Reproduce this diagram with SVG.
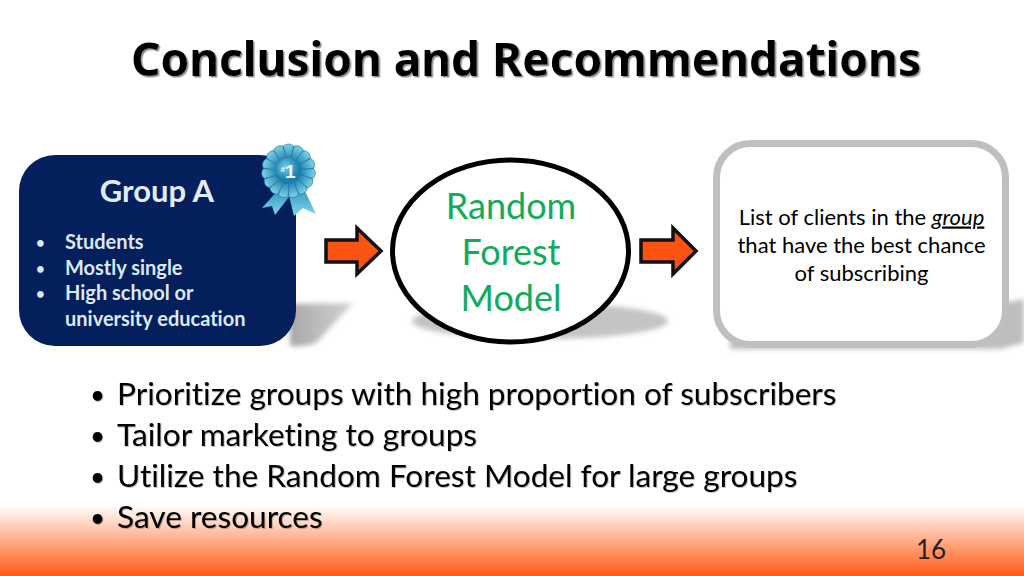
<svg xmlns="http://www.w3.org/2000/svg" width="1024" height="576" viewBox="0 0 1024 576">
<defs>
<linearGradient id="band" x1="0" y1="0" x2="0" y2="1"><stop offset="0" stop-color="#ffffff"/><stop offset="1" stop-color="#ff5a12"/></linearGradient>
<linearGradient id="ribbon" x1="0" y1="0" x2="0" y2="1"><stop offset="0" stop-color="#2f93bd"/><stop offset="1" stop-color="#7fd6ea"/></linearGradient>
<linearGradient id="fadeR" x1="0" y1="0" x2="1" y2="0"><stop offset="0" stop-color="#a8a8a8"/><stop offset="1" stop-color="#d4d4d4"/></linearGradient>
<radialGradient id="seal" cx="0.4" cy="0.35"><stop offset="0" stop-color="#74cfe8"/><stop offset="1" stop-color="#1a80ae"/></radialGradient>
<linearGradient id="petal" x1="0" y1="0" x2="0" y2="1"><stop offset="0" stop-color="#7ed4ea"/><stop offset="1" stop-color="#2484b2"/></linearGradient>
<path id="p" d="M-3.200 -12 L-5 -25 Q0 -29 5 -25 L3.200 -12 Z" fill="url(#petal)" stroke="#1c6f9c" stroke-width="0.6"/>
<filter id="blur" x="-30%" y="-30%" width="160%" height="160%"><feGaussianBlur stdDeviation="2.500"/></filter>
<filter id="soft" x="-5%" y="-20%" width="110%" height="140%"><feDropShadow dx="1" dy="1" stdDeviation="0.6" flood-color="#000" flood-opacity="0.25"/></filter>
<filter id="titleShadow" x="-5%" y="-20%" width="110%" height="140%"><feDropShadow dx="1.500" dy="1.500" stdDeviation="0.3" flood-color="#8c8c8c" flood-opacity="1"/></filter>
</defs>
<style>
text{font-family:"Lato","Liberation Sans",sans-serif;font-variant-ligatures:none}
.title{font-family:"Noto Sans","Liberation Sans",sans-serif;font-size:46px;font-weight:700;fill:#000}
.bul{font-size:31.600px;fill:#000}
.dot{font-size:26px;fill:#000}
.green{font-size:36px;fill:#12ab5a;text-anchor:middle}
.list{font-size:22px;fill:#000;text-anchor:middle}
.white{font-size:20px;font-weight:700;fill:#dbe8f6}
.wdot{font-size:15px;font-weight:700;fill:#dbe8f6}
.shadow{fill:#c4c4c4;filter:url(#blur)}
.arrow{fill:#fb5412;stroke:#111;stroke-width:3.500;stroke-linejoin:miter}
</style>
<rect width="1024" height="576" fill="#fff"/>
<rect id="band-bg" x="0" y="505" width="1024" height="71" fill="url(#band)"/>
<text class="title" x="131" y="76" textLength="790" lengthAdjust="spacing" filter="url(#titleShadow)">Conclusion and Recommendations</text>

<g id="group-a">
<path class="shadow" d="M290 304 L353 303 L316 343 Q305 347 290 346 Z" style="fill:url(#fadeR)"/>
<rect x="19" y="155" width="277" height="191" rx="36" fill="#031f5c"/>
<text x="157" y="202" text-anchor="middle" fill="#e2ecf7" style="font-size:31px;font-weight:700">Group A</text>
<text class="wdot" x="36" y="248">•</text><text class="white" x="65" y="249">Students</text>
<text class="wdot" x="36" y="274">•</text><text class="white" x="65" y="275">Mostly single</text>
<text class="wdot" x="36" y="299">•</text><text class="white" x="65" y="300">High school or</text>
<text class="white" x="65" y="326">university education</text>
</g>

<g id="ribbon-badge">
<path d="M279 189 L262 208 L272 206 L275 215 L292 193 Z" fill="url(#ribbon)"/>
<path d="M288 192 L294 216 L303 208 L316 214 L303 187 Z" fill="url(#ribbon)"/>
<g transform="translate(288.500 171)">
<circle r="25" fill="#1f7ba8"/>
<use href="#p" transform="rotate(0)"/><use href="#p" transform="rotate(24)"/><use href="#p" transform="rotate(48)"/><use href="#p" transform="rotate(72)"/><use href="#p" transform="rotate(96)"/><use href="#p" transform="rotate(120)"/><use href="#p" transform="rotate(144)"/><use href="#p" transform="rotate(168)"/><use href="#p" transform="rotate(192)"/><use href="#p" transform="rotate(216)"/><use href="#p" transform="rotate(240)"/><use href="#p" transform="rotate(264)"/><use href="#p" transform="rotate(288)"/><use href="#p" transform="rotate(312)"/><use href="#p" transform="rotate(336)"/>
<circle r="13" fill="url(#seal)"/>
</g>
<text x="288" y="178" text-anchor="middle" fill="#f2f8fb" style="font-family:'Liberation Sans',sans-serif;font-size:19px;font-weight:700"><tspan style="font-size:8px" dy="-6">#</tspan><tspan dy="6">1</tspan></text>
</g>

<g id="connectors">
<path class="arrow" d="M326 240 H357 V228 L381 251 L357 274 V262 H326 Z"/>
<path class="arrow" d="M641 240 H673 V228 L696 251 L673 274 V262 H641 Z"/>
</g>

<g id="random-forest-model">
<ellipse class="shadow" cx="540" cy="321" rx="128" ry="18"/>
<ellipse cx="510.500" cy="251" rx="118" ry="91" fill="#fff" stroke="#000" stroke-width="5"/>
<text class="green" x="511" y="219">Random</text>
<text class="green" x="511" y="265">Forest</text>
<text class="green" x="511" y="311">Model</text>
</g>

<g id="client-list">
<path class="shadow" d="M998 304 L1024 299 L1024 343 L1000 349 L730 349 L730 340 Z" style="fill:#bdbdbd"/>
<rect x="716.500" y="143.500" width="289" height="201" rx="34" fill="#fff" stroke="#bfbfbf" stroke-width="7"/>
<text class="list" x="861.500" y="224.500">List of clients in the <tspan font-style="italic" text-decoration="underline">group</tspan></text>
<text class="list" x="861.500" y="252.500">that have the best chance</text>
<text class="list" x="861.500" y="280.500">of subscribing</text>
</g>

<g id="recommendations" filter="url(#soft)">
<text class="dot" x="90" y="404">•</text><text class="bul" x="117" y="405">Prioritize groups with high proportion of subscribers</text>
<text class="dot" x="90" y="445">•</text><text class="bul" x="117" y="446">Tailor marketing to groups</text>
<text class="dot" x="90" y="486">•</text><text class="bul" x="117" y="487">Utilize the Random Forest Model for large groups</text>
<text class="dot" x="90" y="527">•</text><text class="bul" x="117" y="528">Save resources</text>
</g>
<text x="931" y="559" text-anchor="middle" style="font-size:26px;fill:#222">16</text>
</svg>
